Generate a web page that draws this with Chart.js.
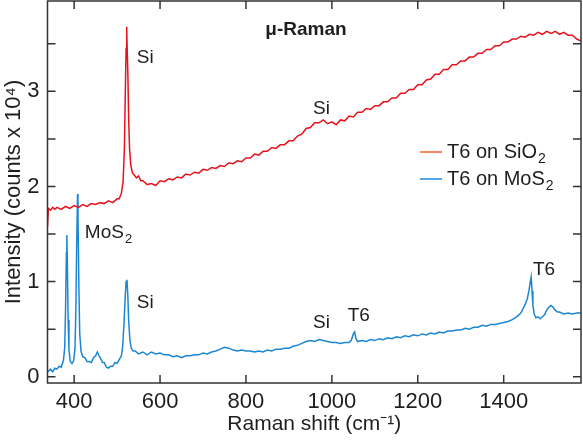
<!DOCTYPE html>
<html>
<head>
<meta charset="utf-8">
<script src="https://cdn.jsdelivr.net/npm/chart.js@4.4.1/dist/chart.umd.min.js"></script>
<style>
  html, body { margin: 0; padding: 0; background: #fff; }
  #wrap { width: 583px; height: 442px; }
</style>
</head>
<body>
<div id="wrap"><canvas id="raman" width="583" height="442"></canvas></div>
<script>
// Raman shift (cm-1) and intensity (counts x 10^4)
const sio2Shift = [338, 340, 345, 350, 355, 360, 370, 380, 390, 400, 410, 420, 430, 440, 450, 460, 470, 480, 490, 500,
    505, 510, 514, 517, 519, 521, 522, 523, 525, 527, 529, 532, 536, 540, 545, 550, 555, 560, 570, 580,
    590, 600, 610, 620, 630, 640, 650, 660, 670, 680, 690, 700, 710, 720, 730, 740, 750, 760, 770, 780,
    790, 800, 810, 820, 830, 840, 850, 860, 870, 880, 890, 900, 910, 920, 930, 940, 950, 960, 970, 980,
    990, 1000, 1010, 1020, 1030, 1040, 1050, 1060, 1070, 1080, 1090, 1100, 1110, 1120, 1130, 1140, 1150, 1160, 1170, 1180,
    1190, 1200, 1210, 1220, 1230, 1240, 1250, 1260, 1270, 1280, 1290, 1300, 1310, 1320, 1330, 1340, 1350, 1360, 1370, 1380,
    1390, 1400, 1410, 1420, 1430, 1440, 1450, 1460, 1470, 1480, 1490, 1500, 1510, 1520, 1530, 1540, 1550, 1560, 1570, 1580];
const sio2Counts = [1.58, 1.77, 1.75, 1.78, 1.76, 1.78, 1.76, 1.79, 1.77, 1.80, 1.78, 1.81, 1.79, 1.82, 1.81, 1.83, 1.82, 1.85, 1.83, 1.87,
    1.87, 1.93, 2.05, 2.40, 2.95, 3.45, 3.68, 3.62, 3.20, 2.70, 2.40, 2.22, 2.14, 2.12, 2.09, 2.11, 2.06, 2.06, 2.02, 2.03,
    2.01, 2.06, 2.05, 2.08, 2.07, 2.10, 2.09, 2.13, 2.12, 2.15, 2.14, 2.18, 2.17, 2.20, 2.19, 2.22, 2.21, 2.25, 2.24, 2.27,
    2.26, 2.30, 2.30, 2.34, 2.33, 2.37, 2.37, 2.41, 2.40, 2.44, 2.44, 2.48, 2.48, 2.53, 2.55, 2.61, 2.62, 2.67, 2.67, 2.70,
    2.66, 2.68, 2.65, 2.70, 2.69, 2.74, 2.73, 2.78, 2.78, 2.82, 2.81, 2.85, 2.85, 2.89, 2.89, 2.93, 2.93, 2.98, 2.98, 3.02,
    3.02, 3.07, 3.07, 3.12, 3.13, 3.18, 3.18, 3.23, 3.23, 3.28, 3.28, 3.32, 3.32, 3.36, 3.36, 3.40, 3.40, 3.44, 3.44, 3.48,
    3.48, 3.52, 3.52, 3.55, 3.55, 3.58, 3.57, 3.60, 3.59, 3.62, 3.60, 3.63, 3.61, 3.63, 3.60, 3.62, 3.59, 3.59, 3.55, 3.53];

const mos2Shift = [338, 345, 350, 355, 360, 365, 370, 375, 378, 380, 382, 383, 384, 386, 388, 391, 395, 399, 402, 404,
    406, 408, 409, 411, 413, 416, 420, 425, 430, 435, 440, 445, 450, 454, 458, 462, 466, 470, 475, 480,
    485, 490, 495, 500, 505, 510, 513, 516, 519, 521, 523, 525, 527, 530, 533, 537, 542, 550, 560, 570,
    580, 590, 600, 610, 620, 630, 640, 650, 660, 670, 680, 690, 700, 710, 720, 730, 740, 750, 760, 770,
    780, 790, 800, 810, 820, 830, 840, 850, 860, 870, 880, 890, 900, 910, 920, 930, 940, 950, 960, 970,
    980, 990, 1000, 1010, 1020, 1030, 1040, 1045, 1050, 1053, 1056, 1060, 1070, 1080, 1090, 1100, 1110, 1120, 1130, 1140,
    1150, 1160, 1170, 1180, 1190, 1200, 1210, 1220, 1230, 1240, 1250, 1260, 1270, 1280, 1290, 1300, 1310, 1320, 1330, 1340,
    1350, 1360, 1370, 1380, 1390, 1400, 1410, 1420, 1430, 1440, 1450, 1455, 1459, 1462, 1464, 1466, 1468, 1471, 1475, 1480,
    1485, 1490, 1495, 1500, 1505, 1510, 1515, 1520, 1525, 1530, 1540, 1550, 1560, 1570, 1580];
const mos2Counts = [0.05, 0.08, 0.05, 0.09, 0.08, 0.11, 0.10, 0.17, 0.30, 0.70, 1.30, 1.49, 1.25, 0.60, 0.28, 0.16, 0.14, 0.17, 0.30, 0.70,
    1.40, 1.92, 1.70, 0.95, 0.45, 0.27, 0.21, 0.20, 0.16, 0.16, 0.15, 0.20, 0.22, 0.26, 0.22, 0.19, 0.15, 0.15, 0.10, 0.09,
    0.11, 0.11, 0.15, 0.14, 0.18, 0.22, 0.32, 0.55, 0.85, 1.00, 1.02, 0.85, 0.58, 0.38, 0.30, 0.27, 0.27, 0.24, 0.26, 0.23,
    0.26, 0.24, 0.25, 0.23, 0.23, 0.21, 0.22, 0.20, 0.22, 0.22, 0.23, 0.23, 0.25, 0.24, 0.26, 0.27, 0.29, 0.31, 0.30, 0.28,
    0.27, 0.28, 0.27, 0.27, 0.26, 0.27, 0.26, 0.28, 0.27, 0.29, 0.29, 0.30, 0.30, 0.32, 0.33, 0.35, 0.37, 0.38, 0.37, 0.39,
    0.38, 0.37, 0.36, 0.36, 0.35, 0.36, 0.36, 0.38, 0.45, 0.47, 0.40, 0.37, 0.38, 0.37, 0.39, 0.38, 0.40, 0.39, 0.41, 0.40,
    0.42, 0.41, 0.43, 0.42, 0.44, 0.43, 0.45, 0.44, 0.46, 0.45, 0.47, 0.46, 0.48, 0.48, 0.49, 0.49, 0.51, 0.50, 0.52, 0.52,
    0.54, 0.53, 0.55, 0.55, 0.56, 0.57, 0.58, 0.60, 0.63, 0.67, 0.76, 0.82, 0.91, 1.00, 1.05, 0.90, 0.75, 0.66, 0.62, 0.63,
    0.61, 0.63, 0.65, 0.70, 0.73, 0.75, 0.73, 0.70, 0.68, 0.68, 0.66, 0.67, 0.66, 0.67, 0.67];

const xTickValues = [400, 600, 800, 1000, 1200, 1400];
const yTickValues = [0, 0.5, 1, 1.5, 2, 2.5, 3, 3.5];

// peak annotations: [main text, subscript, shift, counts]
const peakLabels = [
    ["Si", "", 546, 3.35],
    ["Si", "", 956, 2.815],
    ["MoS", "2", 425, 1.517],
    ["Si", "", 546, 0.778],
    ["Si", "", 956, 0.567],
    ["T6", "", 1037, 0.641],
    ["T6", "", 1468, 1.127]
];

const fontFamily = "'Liberation Sans', Arial, Helvetica, sans-serif";
const textColor = "#1e1e1e";
const frameColor = "#333333";
const redColor = "#e8121c";
const blueColor = "#1b87d3";
const legendRedColor = "#f2602a";

function drawWithSub(ctx, main, sub, x, y, size){
    ctx.font = `${size}px ${fontFamily}`;
    ctx.fillText(main, x, y);
    if(sub){
        const w = ctx.measureText(main).width;
        ctx.font = `${Math.round(size * 0.68)}px ${fontFamily}`;
        ctx.fillText(sub, x + w + 1, y + size * 0.38);
    }
}

const framePlugin = {
    id: "frame",
    afterDraw(chart){
        const {ctx, chartArea: a, scales: {x, y}} = chart;
        ctx.save();
        ctx.strokeStyle = frameColor;
        ctx.lineWidth = 1.5;
        ctx.strokeRect(a.left, a.top, a.right - a.left, a.bottom - a.top);

        // inward ticks on all four sides
        const tick = 8;
        ctx.beginPath();
        xTickValues.forEach(v => {
            const px = x.getPixelForValue(v);
            ctx.moveTo(px, a.bottom);
            ctx.lineTo(px, a.bottom - tick);
            ctx.moveTo(px, a.top);
            ctx.lineTo(px, a.top + tick);
        });
        yTickValues.forEach(v => {
            const py = y.getPixelForValue(v);
            ctx.moveTo(a.left, py);
            ctx.lineTo(a.left + tick, py);
            ctx.moveTo(a.right, py);
            ctx.lineTo(a.right - tick, py);
        });
        ctx.stroke();

        ctx.fillStyle = textColor;
        ctx.textBaseline = "middle";
        ctx.textAlign = "left";
        peakLabels.forEach(([main, sub, sx, sy]) => {
            drawWithSub(ctx, main, sub, x.getPixelForValue(sx), y.getPixelForValue(sy), 19);
        });

        // title
        ctx.textAlign = "center";
        ctx.font = `bold 19px ${fontFamily}`;
        ctx.fillText("\u03bc-Raman", 306, 30);

        // legend
        ctx.textAlign = "left";
        const rows = [["T6 on SiO", legendRedColor, 152], ["T6 on MoS", blueColor, 179]];
        rows.forEach(([label, color, ly]) => {
            ctx.strokeStyle = color;
            ctx.lineWidth = 1.5;
            ctx.beginPath();
            ctx.moveTo(420, ly);
            ctx.lineTo(442, ly);
            ctx.stroke();
            ctx.fillStyle = textColor;
            drawWithSub(ctx, label, "2", 447, ly, 20);
        });
        ctx.restore();
    }
};

const ctx = document.getElementById("raman").getContext("2d");

new Chart(ctx, {
    type: "line",
    data: {
        datasets: [{
            label: "T6 on SiO2",
            data: sio2Shift.map((s, i) => ({x: s, y: sio2Counts[i]})),
            borderColor: redColor,
            borderWidth: 1.5,
            pointRadius: 0,
            fill: false,
            tension: 0
        }, {
            label: "T6 on MoS2",
            data: mos2Shift.map((s, i) => ({x: s, y: mos2Counts[i]})),
            borderColor: blueColor,
            borderWidth: 1.5,
            pointRadius: 0,
            fill: false,
            tension: 0
        }]
    },
    options: {
        responsive: false,
        animation: false,
        devicePixelRatio: 1,
        layout: { padding: { top: 1, right: 2, left: 0, bottom: 0 } },
        plugins: {
            legend: { display: false },
            tooltip: { enabled: false }
        },
        scales: {
            x: {
                type: "linear",
                min: 338,
                max: 1580,
                grid: { display: false, drawTicks: false },
                border: { display: false },
                afterBuildTicks: scale => { scale.ticks = xTickValues.map(v => ({value: v})); },
                afterFit: scale => {
                    scale.height = 59;
                    scale.paddingLeft = 0;
                    scale.paddingRight = 0;
                },
                ticks: {
                    autoSkip: false,
                    maxRotation: 0,
                    padding: 6,
                    color: textColor,
                    font: { family: fontFamily, size: 22 },
                    callback: value => String(value)
                },
                title: {
                    display: true,
                    text: "Raman shift (cm\u207b\u00b9)",
                    color: textColor,
                    font: { family: fontFamily, size: 21 },
                    padding: { top: 0, bottom: 5 }
                }
            },
            y: {
                type: "linear",
                min: -0.066,
                max: 3.95,
                grid: { display: false, drawTicks: false },
                border: { display: false },
                afterBuildTicks: scale => { scale.ticks = yTickValues.map(v => ({value: v})); },
                afterFit: scale => {
                    scale.width = 47.5;
                    scale.paddingTop = 0;
                    scale.paddingBottom = 0;
                },
                ticks: {
                    autoSkip: false,
                    padding: 8,
                    color: textColor,
                    font: { family: fontFamily, size: 22 },
                    callback: value => Number.isInteger(value) ? String(value) : ""
                },
                title: {
                    display: true,
                    text: "Intensity (counts x 10\u2074)",
                    color: textColor,
                    font: { family: fontFamily, size: 22 },
                    padding: { top: 1, bottom: 0 }
                }
            }
        }
    },
    plugins: [framePlugin]
});
</script>
</body>
</html>
